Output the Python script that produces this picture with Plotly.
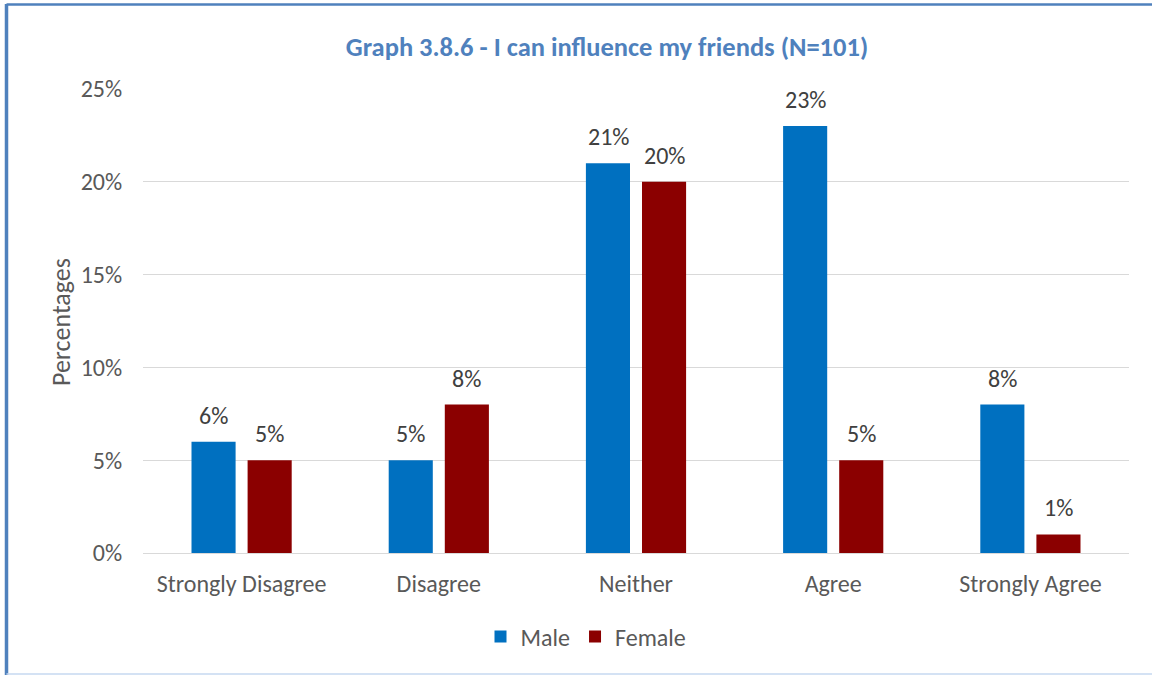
import plotly.graph_objects as go

categories = ["Strongly Disagree", "Disagree", "Neither", "Agree", "Strongly Agree"]
male = [6, 5, 21, 23, 8]
female = [5, 8, 20, 5, 1]
y_ticks = [0, 5, 10, 15, 20, 25]

W, H = 1152, 675
L, R, T, B = 143, 1129, 89, 553  # plot area pixels
pw, ph = R - L, B - T

def px(x):
    return (x - L) / pw

def py(y):
    return (B - y) / ph

font = "Carlito, Calibri, Lato, sans-serif"
FS = 24

fig = go.Figure()
fig.add_trace(go.Bar(name="Male", x=categories, y=male, marker_color="#0070C0",
                     marker_line_width=0))
fig.add_trace(go.Bar(name="Female", x=categories, y=female, marker_color="#8B0000",
                     marker_line_width=0))

# data labels
for vals, shift in ((male, -28), (female, 28)):
    for c, v in zip(categories, vals):
        fig.add_annotation(x=c, y=v, text=f"{v}%", showarrow=False, xshift=shift,
                           yanchor="bottom", yshift=10,
                           font=dict(size=FS, color="#404040", family=font))

fig.update_layout(
    width=W, height=H,
    margin=dict(l=L, r=W - R, t=T, b=H - B),
    paper_bgcolor="white", plot_bgcolor="white",
    barmode="group", bargap=0.431, bargroupgap=0.214,
    font=dict(family=font, color="#595959", size=FS),
    title=dict(text="<b>Graph 3.8.6 - I can influence my friends (N=101)</b>",
               x=px(607), xref="paper", xanchor="center",
               y=1 - 47 / H, yanchor="middle",
               font=dict(size=26.5, color="#4F81BD", family=font)),
    showlegend=True,
    legend=dict(orientation="h", x=px(586), xanchor="center", y=py(637), yanchor="middle",
                font=dict(size=FS, color="#595959"), itemwidth=30, traceorder="normal"),
    yaxis=dict(range=[0, 25], tickvals=y_ticks, ticktext=[f"{v}%" for v in y_ticks],
               showgrid=True, gridcolor="#D9D9D9", gridwidth=1.3,
               zeroline=True, zerolinecolor="#D9D9D9", zerolinewidth=1.3,
               ticks="outside", ticklen=15, tickcolor="rgba(0,0,0,0)", showline=False,
               tickfont=dict(size=FS, color="#595959")),
    xaxis=dict(ticks="outside", ticklen=9, tickcolor="rgba(0,0,0,0)", showline=False,
               tickfont=dict(size=FS, color="#595959")),
)

fig.add_annotation(text="Percentages", xref="paper", yref="paper", x=px(61), y=py(322),
                   textangle=-90, showarrow=False, xanchor="center", yanchor="middle",
                   font=dict(size=26, color="#595959", family=font))

# chart border
fig.add_shape(type="line", xref="paper", yref="paper", x0=px(6.5), x1=px(1152), y0=py(4.5), y1=py(4.5),
              line=dict(color="#4F81BD", width=2.5))
fig.add_shape(type="line", xref="paper", yref="paper", x0=px(6.5), x1=px(6.5), y0=py(4), y1=py(675),
              line=dict(color="#4F81BD", width=3.5))
fig.add_shape(type="line", xref="paper", yref="paper", x0=px(6.5), x1=px(1152), y0=py(674), y1=py(674),
              line=dict(color="#C6D9F1", width=1.5))

fig.write_html("out.html", config={"displayModeBar": False},
               post_script="document.body.style.margin='0';document.body.style.overflow='hidden';")
